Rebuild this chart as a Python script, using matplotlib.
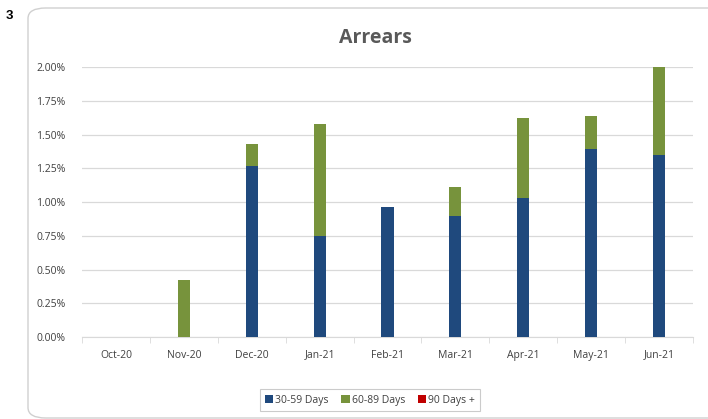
import matplotlib.pyplot as plt
from matplotlib.patches import FancyBboxPatch
from matplotlib.ticker import PercentFormatter
import numpy as np

months = ["Oct-20", "Nov-20", "Dec-20", "Jan-21", "Feb-21",
          "Mar-21", "Apr-21", "May-21", "Jun-21"]
days_30_59 = [0.0, 0.0, 1.27, 0.75, 0.96, 0.90, 1.03, 1.39, 1.35]
days_60_89 = [0.0, 0.42, 0.16, 0.83, 0.0, 0.21, 0.59, 0.25, 0.65]
days_90_plus = [0.0, 0.0, 0.0, 0.0, 0.0, 0.0, 0.0, 0.0, 0.0]

plt.rcParams['font.family'] = ['Open Sans', 'DejaVu Sans']

fig = plt.figure(figsize=(7.08, 4.19), dpi=100)

# rounded chart frame
frame = FancyBboxPatch((28 / 708, 1 / 419), 700 / 708, 410 / 419,
                       boxstyle="round,pad=0,rounding_size=0.025",
                       transform=fig.transFigure, facecolor="none",
                       edgecolor="#d0d0d0", linewidth=1.0, zorder=0)
fig.patches.append(frame)
fig.text(6 / 708, 1 - 16 / 419, "3", fontsize=9.5, fontweight="bold",
         family="Liberation Sans", va="center", ha="left")

ax = fig.add_axes([82 / 708, 1 - 337 / 419, 611 / 708, 270 / 419])
ax.set_facecolor("none")
ax.set_zorder(2)

x = np.arange(len(months))
w = 0.18
b1 = np.array(days_30_59)
b2 = np.array(days_60_89)
ax.bar(x, b1, w, color="#1f497d", label="30-59 Days", zorder=3)
ax.bar(x, b2, w, bottom=b1, color="#77933c", label="60-89 Days", zorder=3)
ax.bar(x, days_90_plus, w, bottom=b1 + b2, color="#c00000",
       label="90 Days +", zorder=3)

ax.set_xlim(-0.5, len(months) - 0.5)
ax.set_ylim(0, 2.0)
ax.set_yticks(np.arange(0, 2.01, 0.25))
ax.yaxis.set_major_formatter(PercentFormatter(decimals=2))
ax.set_xticks(x)
ax.set_xticklabels(months)
ax.set_xticks(np.arange(-0.5, len(months), 1), minor=True)
ax.tick_params(axis="x", which="major", length=0, pad=9)
ax.tick_params(axis="x", which="minor", length=4, color="#d9d9d9")
ax.tick_params(axis="y", length=0, pad=12)
ax.tick_params(labelsize=7.5, labelcolor="#404040")

ax.grid(axis="y", color="#d9d9d9", linewidth=0.9, zorder=0)
for s in ["top", "right", "left"]:
    ax.spines[s].set_visible(False)
ax.spines["bottom"].set_color("#d9d9d9")

fig.text(375 / 708, 1 - 38 / 419, "Arrears", fontsize=14, fontweight="bold",
         color="#595959", ha="center", va="center")

leg = fig.legend(loc="center", bbox_to_anchor=(370 / 708, 1 - 400 / 419),
                 ncol=3, fontsize=7.5, frameon=True, fancybox=False,
                 handlelength=0.8, handleheight=0.8, handletextpad=0.2,
                 columnspacing=1.2, borderpad=0.5)
leg.get_frame().set_edgecolor("#bfbfbf")
leg.get_frame().set_linewidth(0.8)
for t in leg.get_texts():
    t.set_color("#404040")

fig.savefig("out.png", dpi=100)
